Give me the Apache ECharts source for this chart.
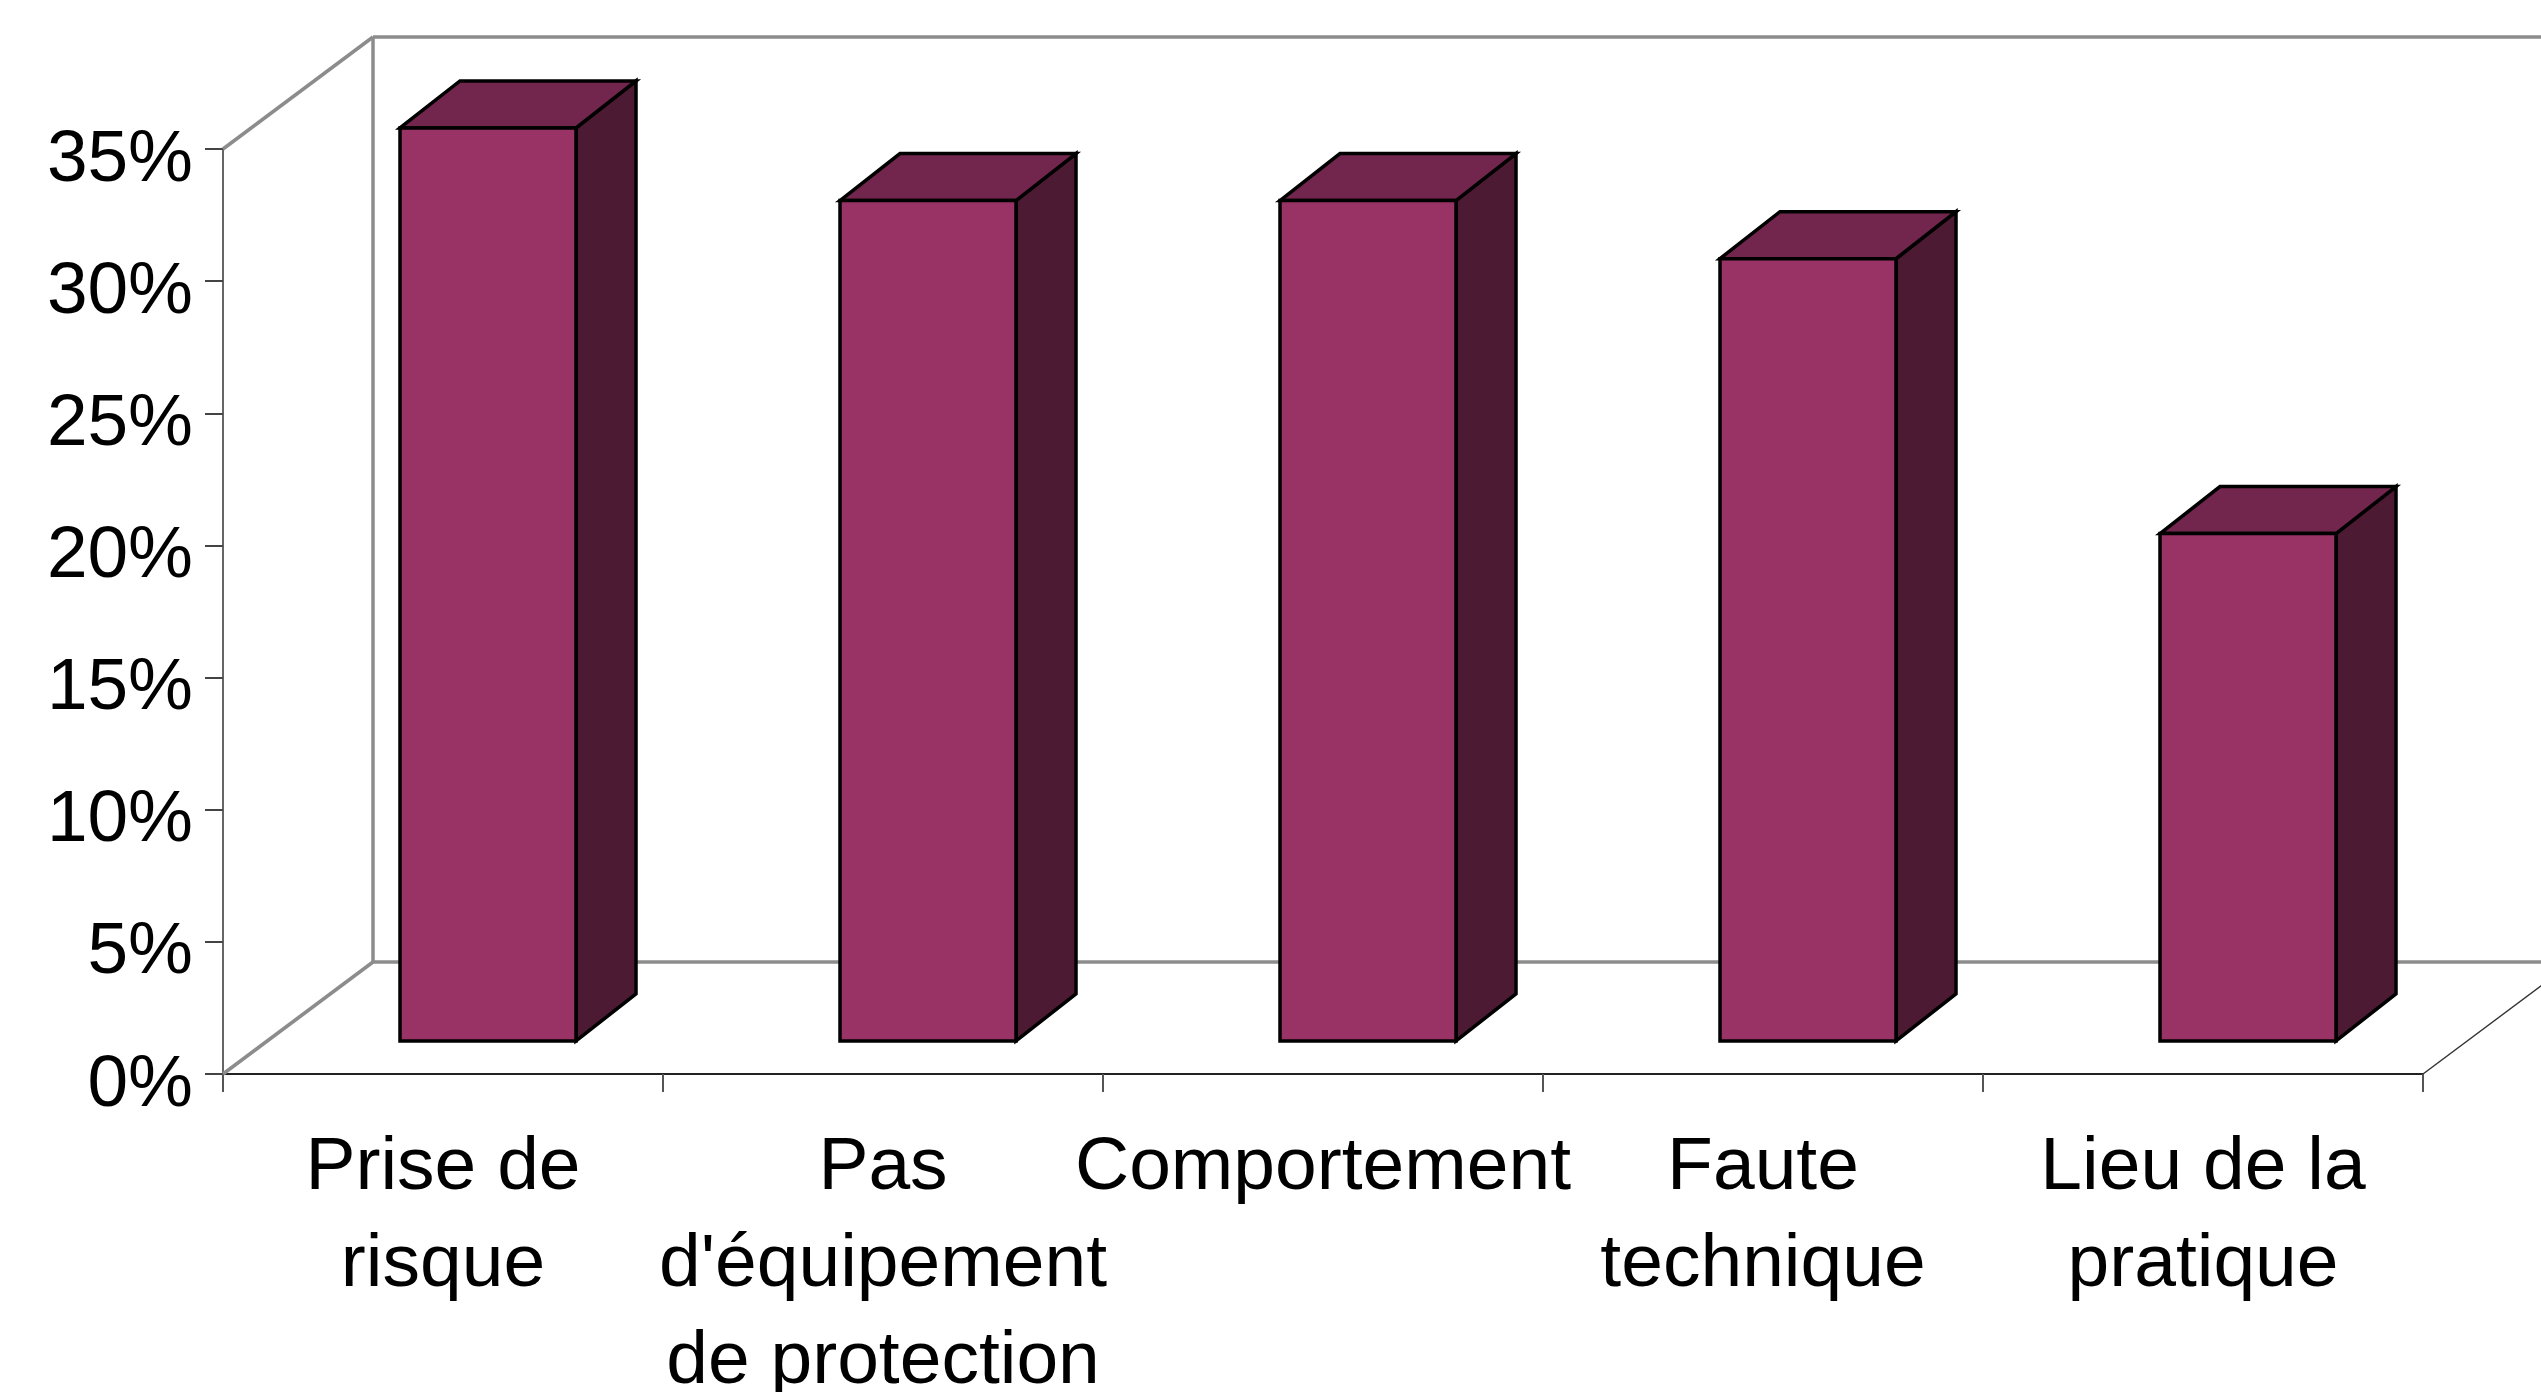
<!DOCTYPE html>
<html>
<head>
<meta charset="utf-8">
<style>html,body{margin:0;padding:0;background:#fff}#c{width:2541px;height:1392px}</style>
<script src="https://cdn.jsdelivr.net/npm/echarts@6/dist/echarts.min.js"></script>
</head>
<body>
<div id="c"></div>
<script>
const categories = ["Prise de\nrisque", "Pas\nd'équipement\nde protection", "Comportement", "Faute\ntechnique", "Lieu de la\npratique"];
const values = [34.55, 31.8, 31.8, 29.6, 19.2];
const yTicks = {min: 0, max: 35, interval: 5};

const FRONT = '#993366', TOP = '#73264d', SIDE = '#4d1a33', EDGE = '#000';
const WALL = '#8c8c8c';
const WALL_DX = 150, WALL_DY = 112, BAR_DX = 60, BAR_DY = 47, SHIFT_X = 45, SHIFT_Y = 33;
const barStyle = (fill) => ({fill, stroke: EDGE, lineWidth: 3.5, lineJoin: 'miter'});

function renderWalls(params, api) {
  const c = params.coordSys;
  const l = c.x, r = c.x + c.width, t = c.y, b = c.y + c.height;
  const line = (x1, y1, x2, y2, color, w) => ({
    type: 'line', shape: {x1, y1, x2, y2}, style: {stroke: color, lineWidth: w}, silent: true
  });
  return {type: 'group', children: [
    line(l, t, l + WALL_DX, t - WALL_DY, WALL, 3.5),
    line(l + WALL_DX, t - WALL_DY, r + WALL_DX, t - WALL_DY, WALL, 3.5),
    line(l + WALL_DX, t - WALL_DY, l + WALL_DX, b - WALL_DY, WALL, 3.5),
    line(l + WALL_DX, b - WALL_DY, r + WALL_DX, b - WALL_DY, WALL, 3.5),
    line(l, b, l + WALL_DX, b - WALL_DY, WALL, 3.5),
    line(r, b, r + WALL_DX, b - WALL_DY, '#333', 1.5)
  ]};
}

function renderBar(params, api) {
  const p = api.coord([api.value(0), api.value(1)]);
  const base = api.coord([api.value(0), 0]);
  const w = api.size([1, 0])[0] * 0.4;
  const x0 = p[0] + SHIFT_X - w / 2, x1 = x0 + w;
  const yT = p[1] - SHIFT_Y, yB = base[1] - SHIFT_Y;
  const poly = (points, fill) => ({type: 'polygon', shape: {points}, style: barStyle(fill)});
  return {type: 'group', children: [
    poly([[x1, yT], [x1 + BAR_DX, yT - BAR_DY], [x1 + BAR_DX, yB - BAR_DY], [x1, yB]], SIDE),
    poly([[x0, yT], [x0 + BAR_DX, yT - BAR_DY], [x1 + BAR_DX, yT - BAR_DY], [x1, yT]], TOP),
    poly([[x0, yT], [x1, yT], [x1, yB], [x0, yB]], FRONT)
  ]};
}

const chart = echarts.init(document.getElementById('c'), null, {renderer: 'canvas'});
chart.setOption({
  animation: false,
  backgroundColor: '#fff',
  tooltip: {show: false},
  grid: {left: 223, right: 118, top: 149, bottom: 318, containLabel: false, outerBoundsMode: 'none'},
  xAxis: {
    type: 'category',
    data: categories,
    boundaryGap: true,
    axisLine: {show: true, lineStyle: {color: '#222', width: 2}},
    axisTick: {show: true, length: 18, alignWithLabel: false, lineStyle: {color: '#555', width: 2}},
    axisLabel: {
      interval: 0, hideOverlap: false, margin: 46,
      fontFamily: 'Liberation Sans', fontSize: 75, lineHeight: 97, color: '#000'
    },
    splitLine: {show: false}
  },
  yAxis: {
    type: 'value',
    min: yTicks.min, max: yTicks.max, interval: yTicks.interval,
    axisLine: {show: true, lineStyle: {color: '#666', width: 2}},
    axisTick: {show: true, length: 18, lineStyle: {color: '#444', width: 2}},
    axisLabel: {
      margin: 30, formatter: (v) => v + '%', verticalAlign: 'top', lineHeight: 23,
      fontFamily: 'Liberation Sans', fontSize: 73, color: '#000'
    },
    splitLine: {show: false}
  },
  series: [
    {type: 'custom', clip: false, silent: true, z: 1, renderItem: renderWalls, data: [[0, 0]]},
    {type: 'custom', clip: false, silent: true, z: 3, renderItem: renderBar,
     encode: {x: 0, y: 1}, data: values.map((v, i) => [i, v])}
  ]
});
</script>
</body>
</html>
